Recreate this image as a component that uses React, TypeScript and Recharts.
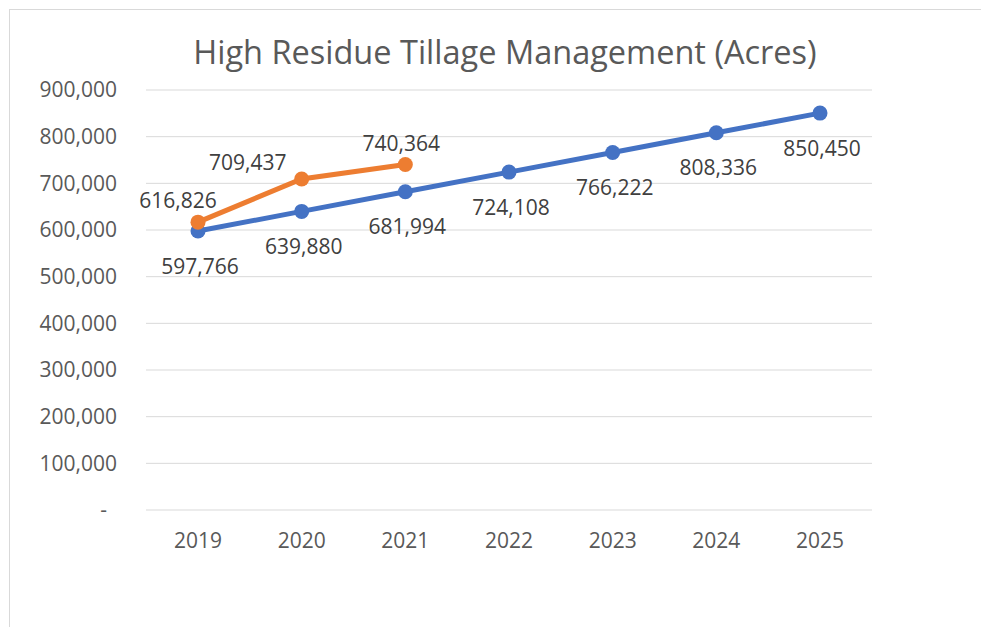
import React from 'react';
import { LineChart, Line, XAxis, YAxis, CartesianGrid, LabelList } from 'recharts';

const years = ['2019', '2020', '2021', '2022', '2023', '2024', '2025'];
const goalAcres = [597766, 639880, 681994, 724108, 766222, 808336, 850450];
const actualAcres = [616826, 709437, 740364];
const yTicks = [0, 100000, 200000, 300000, 400000, 500000, 600000, 700000, 800000, 900000];
const title = 'High Residue Tillage Management (Acres)';

const data = years.map((year, i) => ({
  year,
  goal: goalAcres[i],
  actual: i < actualAcres.length ? actualAcres[i] : null,
}));

const FONT = '"Open Sans", sans-serif';
const BLUE = '#4472C4';
const ORANGE = '#ED7D31';

const goalLabelOffsets = [{ dx: 2, dy: 35 }];
const actualLabelOffsets = [
  { dx: -20, dy: -22 },
  { dx: -54, dy: -16 },
  { dx: -4, dy: -21 },
];

const fmt = (v: number) => v.toLocaleString('en-US');

const makeLabel = (offsets: { dx: number; dy: number }[]) => (props: any) => {
  const { x, y, value, index } = props;
  if (value == null) return null;
  const o = offsets[index] || offsets[0];
  return (
    <text
      x={x + o.dx}
      y={y + o.dy + 7.5}
      textAnchor="middle"
      fontFamily={FONT}
      fontSize={21}
      fill="#404040"
    >
      {fmt(value)}
    </text>
  );
};

const YTick = (props: any) => {
  const { x, y, payload } = props;
  const v = payload.value;
  return (
    <text
      x={v === 0 ? x - 10 : x}
      y={y}
      dy="0.355em"
      textAnchor="end"
      fontFamily={FONT}
      fontSize={21}
      fill="#595959"
    >
      {v === 0 ? '-' : fmt(v)}
    </text>
  );
};

export default function App() {
  return (
    <div style={{ position: 'relative', width: 973, height: 619, overflow: 'hidden', background: '#fff' }}>
      <div
        style={{
          position: 'absolute',
          left: 1,
          top: 1,
          right: -10,
          bottom: -10,
          borderTop: '1px solid #d9d9d9',
          borderLeft: '1px solid #d9d9d9',
        }}
      />
      <div
        style={{
          position: 'absolute',
          left: 0,
          width: 994,
          top: 24,
          textAlign: 'center',
          fontFamily: FONT,
          fontSize: 32.5,
          color: '#595959',
          lineHeight: '40px',
          whiteSpace: 'nowrap',
        }}
      >
        {title}
      </div>
      <div style={{ position: 'absolute', left: 0, top: 0 }}>
        <LineChart
          width={973}
          height={619}
          data={data}
          margin={{ top: 82, right: 109, bottom: 77, left: 78 }}
        >
          <CartesianGrid vertical={false} stroke="#d9d9d9" strokeWidth={1} />
          <XAxis
            dataKey="year"
            axisLine={false}
            tickLine={false}
            tickSize={0}
            tickMargin={23}
            height={40}
            padding={{ left: 52, right: 52 }}
            tick={{ fontFamily: FONT, fontSize: 21, fill: '#595959' }}
            interval={0}
          />
          <YAxis
            type="number"
            domain={[0, 900000]}
            ticks={yTicks}
            axisLine={false}
            tickLine={false}
            tickSize={0}
            tickMargin={29}
            width={60}
            tick={<YTick />}
            interval={0}
          />
          <Line
            dataKey="goal"
            name="Goal"
            stroke={BLUE}
            strokeWidth={5}
            dot={{ r: 7.5, fill: BLUE, stroke: BLUE, strokeWidth: 0 }}
            activeDot={false}
            isAnimationActive={false}
          >
            <LabelList dataKey="goal" content={makeLabel(goalLabelOffsets)} />
          </Line>
          <Line
            dataKey="actual"
            name="Actual"
            stroke={ORANGE}
            strokeWidth={5}
            dot={{ r: 7.5, fill: ORANGE, stroke: ORANGE, strokeWidth: 0 }}
            activeDot={false}
            isAnimationActive={false}
          >
            <LabelList dataKey="actual" content={makeLabel(actualLabelOffsets)} />
          </Line>
        </LineChart>
      </div>
    </div>
  );
}
